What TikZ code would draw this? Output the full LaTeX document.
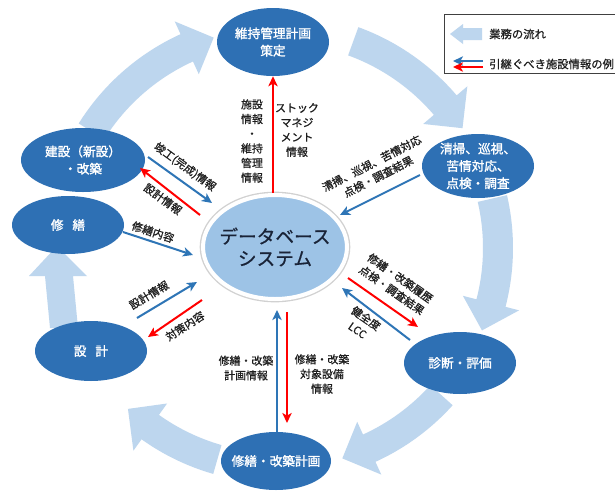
\documentclass[tikz,border=0pt]{standalone}
\usepackage{fontspec}
\setmainfont{Noto Sans CJK JP}
\newfontfamily\jpb[FakeBold=1.5]{Noto Sans CJK JP}
\newfontfamily\jpl[FakeBold=0.8]{Noto Sans CJK JP}
\usetikzlibrary{shapes.geometric,arrows.meta}
\definecolor{nodeblue}{RGB}{46,112,180}
\definecolor{flowblue}{RGB}{189,214,238}
\definecolor{dbblue}{RGB}{157,195,230}
\definecolor{arrblue}{RGB}{46,117,182}
\definecolor{arrred}{RGB}{255,0,0}
\definecolor{txtdark}{RGB}{30,30,30}
\definecolor{dbtext}{RGB}{25,35,55}
\newcommand{\flowarc}[2]{%
  \pgfmathsetmacro{\flowth}{#2-7.5}%
  \fill[flow] (#1:235) arc[start angle=#1, end angle=\flowth, radius=235]
    -- (\flowth:249) -- (#2:220) -- (\flowth:191) -- (\flowth:205)
    arc[start angle=\flowth, end angle=#1, radius=205] -- cycle;}
\begin{document}
\begin{tikzpicture}[x=0.75pt,y=-0.75pt,
  proc/.style={ellipse, fill=nodeblue, text=white, inner xsep=-6pt, inner ysep=-4pt,
    align=center, font=\jpb\fontsize{9.5}{13}\selectfont},
  lbl/.style={text=txtdark, align=center, inner sep=0pt, font=\jpl\fontsize{8.2}{11}\selectfont},
  barr/.style={draw=arrblue, line width=1.5pt, -{Stealth[length=7.5pt,width=7pt,inset=2pt]}},
  rarr/.style={draw=arrred, line width=1.5pt, -{Stealth[length=7.5pt,width=7pt,inset=2pt]}},
  flow/.style={fill=flowblue}]
\useasboundingbox (0,0) rectangle (615,490);
\clip (0,0) rectangle (615,490);
\fill[white] (0,0) rectangle (615,490);

% cycle flow arrows
\begin{scope}[shift={(278,248)}]
  \flowarc{212}{253}
  \flowarc{290}{327}
  \flowarc{347}{382}
  \flowarc{42}{73}
  \flowarc{106}{133}
\end{scope}
\fill[flow] (50,328) -- (78,328) -- (73,276) -- (87,276) -- (57,246) -- (29,276) -- (45,276) -- cycle;

% nodes
\node[ellipse, minimum width=108pt, minimum height=78pt, inner xsep=-4pt, inner ysep=0pt,
  fill=dbblue, draw=white, line width=3pt, preaction={draw=black!18, line width=5pt},
  text=dbtext, align=center, font=\jpl\fontsize{14}{16.5}\selectfont]
  (db) at (275,247) {データベース\\システム};
\node[proc, minimum width=84pt, minimum height=51pt] (ijikanri) at (273,42) {維持管理計画\\策定};
\node[proc, minimum width=84pt, minimum height=48pt] (seisou) at (478,166) {清掃、巡視、\\苦情対応、\\点検・調査};
\node[proc, minimum width=84pt, minimum height=46.5pt] (shindan) at (460,363) {診断・評価};
\node[proc, minimum width=82.5pt, minimum height=43.5pt] (keikaku) at (276,461) {修繕・改築計画};
\node[proc, minimum width=84pt, minimum height=45pt] (sekkei) at (91,351) {設\hspace{0.7em}計};
\node[proc, minimum width=84pt, minimum height=43.5pt] (shuzen) at (68,225) {修\hspace{0.7em}繕};
\node[proc, minimum width=93pt, minimum height=48pt] (kensetsu) at (83,160) {建設（新設）\\・改築};

% arrow end points
\coordinate (a2s) at (420,175); \coordinate (a2e) at (340,215);
\coordinate (a3s) at (348,278); \coordinate (a3e) at (418,327);
\coordinate (a4s) at (410,340); \coordinate (a4e) at (342,288);
\coordinate (a5s) at (277,432); \coordinate (a5e) at (277,310);
\coordinate (a6s) at (287,312); \coordinate (a6e) at (287,423);
\coordinate (a7s) at (148,157); \coordinate (a7e) at (212,203);
\coordinate (a8s) at (200,215); \coordinate (a8e) at (140,168);
\coordinate (a9s) at (123,232); \coordinate (a9e) at (193,255);
\coordinate (a10s) at (137,318); \coordinate (a10e) at (197,282);
\coordinate (a11s) at (202,300); \coordinate (a11e) at (148,337);

% information arrows
\draw[rarr] (ijikanri.south |- db.north) -- (ijikanri.south);
\draw[barr] (a2s) -- (a2e);
\draw[rarr] (a3s) -- (a3e);
\draw[barr] (a4s) -- (a4e);
\draw[barr] (a5s) -- (a5e);
\draw[rarr] (a6s) -- (a6e);
\draw[barr] (a7s) -- (a7e);
\draw[rarr] (a8s) -- (a8e);
\draw[barr] (a9s) -- (a9e);
\draw[barr] (a10s) -- (a10e);
\draw[rarr] (a11s) -- (a11e);

% labels
\node[lbl] (l1) at (252,141) {施設\\情報\\・\\維持\\管理\\情報};
\node[lbl] (l2) at (297,130) {ストック\\マネジ\\メント\\情報};
\node[lbl, rotate=27] (l3) at (375,170) {清掃、巡視、苦情対応\\点検・調査結果};
\node[lbl, rotate=-35] (l4) at (396,284) {修繕・改築履歴\\点検・調査結果};
\node[lbl, rotate=-35] (l5) at (362,324) {健全度\\LCC};
\node[lbl] (l6) at (246,368) {修繕・改築\\計画情報};
\node[lbl] (l7) at (322,374) {修繕・改築\\対象設備\\情報};
\node[lbl, rotate=-36] (l8) at (185,167) {竣工(完成)情報};
\node[lbl, rotate=-36] (l9) at (163,199) {設計情報};
\node[lbl, rotate=-18] (l10) at (153,232) {修繕内容};
\node[lbl, rotate=31] (l11) at (149,295) {設計情報};
\node[lbl, rotate=33] (l12) at (185,326) {対策内容};

% legend
\node[draw=black!75, line width=0.6pt, minimum width=135pt, minimum height=44pt, inner sep=0pt,
  anchor=north west] (legend) at (444,14) {};
\fill[flow] (482,28) -- (463,28) -- (463,24) -- (450,34) -- (463,44) -- (463,40) -- (482,40) -- cycle;
\node[anchor=west, inner sep=0pt, text=txtdark, font=\jpl\fontsize{8.5}{10}\selectfont] (lg1) at (489,34) {業務の流れ};
\coordinate (lb1) at (483,61); \coordinate (lb2) at (453,61);
\coordinate (lr1) at (483,67); \coordinate (lr2) at (453,67);
\draw[barr, line width=1.3pt] (lb1) -- (lb2);
\draw[rarr, line width=1.3pt] (lr1) -- (lr2);
\node[anchor=west, inner sep=0pt, text=txtdark, font=\jpl\fontsize{8.5}{10}\selectfont] (lg2) at (489,64) {引継ぐべき施設情報の例};
\end{tikzpicture}
\end{document}
